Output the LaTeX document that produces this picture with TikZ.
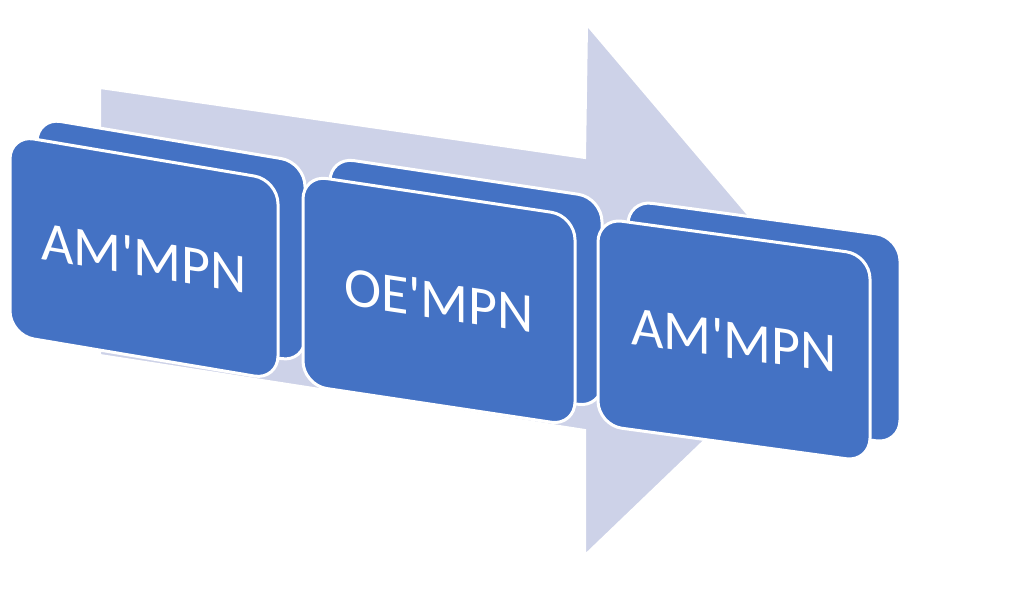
\documentclass[tikz,border=0pt]{standalone}
\usepackage{fontspec}
\setmainfont{Carlito}
\begin{document}
\begin{tikzpicture}[x=1pt,y=1pt,
  face/.style={fill=boxblue,draw=white,line width=3pt,rounded corners=24pt},
  lbl/.style={text=white,transform shape,font=\fontsize{56}{60}\selectfont}]
\definecolor{boxblue}{HTML}{4472C4}
\definecolor{lav}{HTML}{CDD2E8}
\useasboundingbox (0,0) rectangle (1024,608);
% big arrow
\draw[fill=lav,draw=white,line width=2pt]
  (100,520) -- (585,450) -- (587,583) -- (834,292) -- (585,53) -- (585,178) -- (100,253) -- cycle;
% box 1
\begin{scope}[shift={(10,473)},yslant=-0.168]
  \draw[face] (27,22) rectangle (295,-178);
  \draw[face] (0,0) rectangle (268,-200);
  \node[lbl] (b1) at (134,-100) {AM\textquotesingle MPN};
\end{scope}
% box 2
\begin{scope}[shift={(303,433)},yslant=-0.15]
  \draw[face] (27,22) rectangle (299,-188);
  \draw[face] (0,0) rectangle (272,-210);
  \node[lbl] (b2) at (136,-105) {OE\textquotesingle MPN};
\end{scope}
% box 3
\begin{scope}[shift={(598,390)},yslant=-0.136]
  \draw[face] (30,22) rectangle (302,-185);
  \draw[face] (0,0) rectangle (272,-207);
  \node[lbl] (b3) at (136,-103) {AM\textquotesingle MPN};
\end{scope}
\end{tikzpicture}
\end{document}
